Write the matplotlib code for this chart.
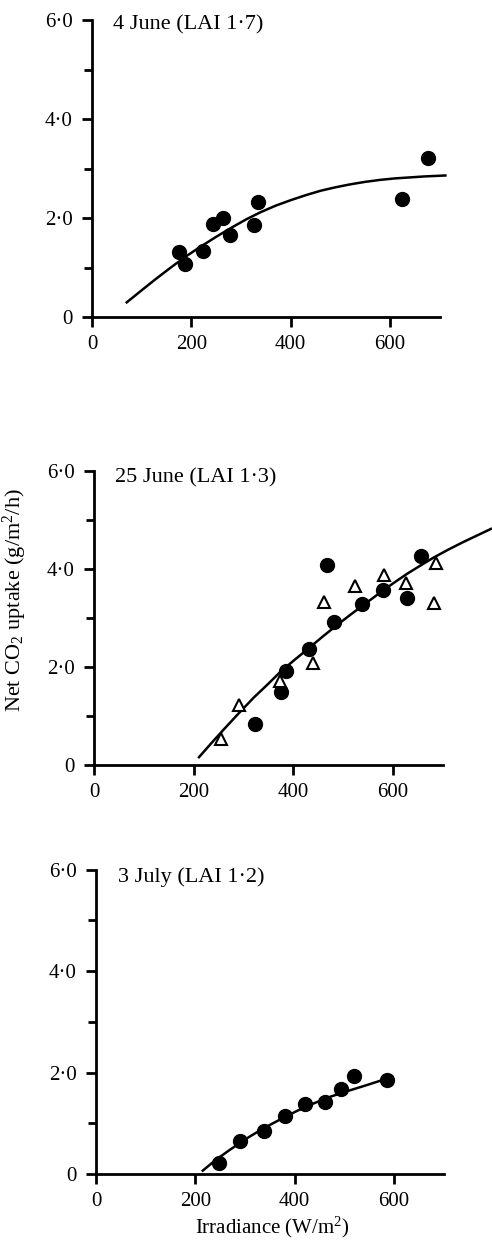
import matplotlib
matplotlib.use("Agg")
import matplotlib.pyplot as plt
from matplotlib.ticker import FixedLocator

plt.rcParams['font.family'] = ['Liberation Serif', 'DejaVu Serif']
plt.rcParams['mathtext.fontset'] = 'custom'
plt.rcParams['mathtext.rm'] = 'Liberation Serif'
plt.rcParams['mathtext.it'] = 'Liberation Serif:italic'

# ---- data ----
# Panel 1: 4 June (LAI 1.7)
p1_x = [176, 187, 223, 244, 264, 278, 326, 334, 624, 676]
p1_y = [1.32, 1.07, 1.33, 1.87, 1.99, 1.66, 1.86, 2.33, 2.38, 3.21]
p1_curve_x = [68, 100, 130, 160, 190, 220, 250, 280, 310, 340, 370, 400,
              430, 460, 490, 520, 550, 580, 610, 640, 670, 714]
p1_curve_y = [0.28, 0.54, 0.78, 1.01, 1.23, 1.43, 1.62, 1.80, 1.97, 2.12,
              2.25, 2.36, 2.46, 2.55, 2.62, 2.68, 2.73, 2.77, 2.80, 2.82,
              2.84, 2.86]

# Panel 2: 25 June (LAI 1.3)
p2_circ_x = [323, 375, 385, 432, 468, 482, 537, 579, 629, 656]
p2_circ_y = [0.84, 1.50, 1.92, 2.36, 4.09, 2.92, 3.29, 3.57, 3.41, 4.27]
p2_tri_x = [255, 290, 373, 439, 462, 524, 581, 626, 682, 686]
p2_tri_y = [0.53, 1.22, 1.72, 2.09, 3.33, 3.65, 3.88, 3.72, 3.30, 4.13]
p2_curve_x = [209, 235, 259, 290, 320, 350, 373, 403, 433, 460, 487, 515,
              540, 560, 581, 605, 628, 655, 681, 710, 741, 770, 799]
p2_curve_y = [0.14, 0.44, 0.71, 1.05, 1.37, 1.66, 1.89, 2.15, 2.40, 2.63,
              2.85, 3.07, 3.26, 3.41, 3.57, 3.74, 3.90, 4.07, 4.23, 4.39,
              4.55, 4.69, 4.83]

# Panel 3: 3 July (LAI 1.2)
p3_x = [248, 290, 338, 381, 421, 462, 493, 519, 585]
p3_y = [0.22, 0.66, 0.85, 1.14, 1.38, 1.42, 1.67, 1.93, 1.85]
p3_curve_x = [213, 240, 270, 305, 337, 370, 404, 438, 471, 505, 538, 570, 599]
p3_curve_y = [0.05, 0.27, 0.48, 0.71, 0.90, 1.07, 1.24, 1.39, 1.52, 1.63,
              1.73, 1.83, 1.92]

titles = ["4 June (LAI 1\u00b77)", "25 June (LAI 1\u00b73)", "3 July (LAI 1\u00b72)"]
y_ticks = [0, 2, 4, 6]
y_tick_labels = ["0", "2\u00b70", "4\u00b70", "6\u00b70"]
y_minor = [1, 3, 5]
x_ticks = [0, 200, 400, 600]
x_tick_labels = ["0", "200", "400", "600"]

W, H = 492, 1244
fig = plt.figure(figsize=(W / 100, H / 100), dpi=100)

# axes boxes in pixels: (x of 0, x of 700, y of 0, y of 6)
boxes = [
    (92, 92 + 700 * 0.4967, 317, 20),
    (94, 94 + 700 * 0.4983, 765, 471),
    (96, 96 + 700 * 0.4967, 1174, 869.5),
]
title_pos = [(0.061, 0.983), (0.060, 0.976), (0.062, 0.975)]

axes = []
for (x0, x1, y0, y6) in boxes:
    ax = fig.add_axes([x0 / W, 1 - y0 / H, (x1 - x0) / W, (y0 - y6) / H])
    axes.append(ax)

fs = 15
for i, ax in enumerate(axes):
    ax.set_xlim(0, 700)
    ax.set_ylim(0, 6)
    for s in ['top', 'right']:
        ax.spines[s].set_visible(False)
    for s in ['left', 'bottom']:
        ax.spines[s].set_linewidth(2.0)
    ax.set_xticks(x_ticks)
    ax.set_xticklabels(x_tick_labels, fontsize=fs)
    ax.set_yticks(y_ticks)
    ax.set_yticklabels(y_tick_labels, fontsize=fs)
    ax.yaxis.set_minor_locator(FixedLocator(y_minor))
    ax.tick_params(axis='both', which='major', direction='out', length=7, width=2.0)
    ax.tick_params(axis='y', which='major', pad=7)
    ax.tick_params(axis='x', which='major', pad=6)
    ax.tick_params(axis='y', which='minor', direction='out', length=6, width=2.0)
    ax.text(title_pos[i][0], title_pos[i][1], titles[i], transform=ax.transAxes,
            fontsize=16, ha='left', va='center')

ms = 10
lw = 1.8
axes[0].plot(p1_curve_x, p1_curve_y, color='black', lw=lw, clip_on=False,
             solid_capstyle='butt')
axes[0].plot(p1_x, p1_y, 'o', color='black', ms=ms, clip_on=False)

axes[1].plot(p2_curve_x, p2_curve_y, color='black', lw=lw, clip_on=False,
             solid_capstyle='butt')
axes[1].plot(p2_circ_x, p2_circ_y, 'o', color='black', ms=ms, clip_on=False)
axes[1].plot(p2_tri_x, p2_tri_y, '^', mfc='white', mec='black', mew=1.5,
             ms=8, clip_on=False)

axes[2].plot(p3_curve_x, p3_curve_y, color='black', lw=lw, clip_on=False,
             solid_capstyle='butt')
axes[2].plot(p3_x, p3_y, 'o', color='black', ms=ms, clip_on=False)

fig.text(15 / W, 1 - 600 / H, r"Net CO$_2$ uptake (g/m$^2$/h)", rotation=90,
         ha='center', va='center', fontsize=16)
fig.text(272 / W, 1 - 1240 / H, r"Irradiance (W/m$^2$)", ha='center',
         va='bottom', fontsize=15)

fig.savefig("out.png", dpi=100)
